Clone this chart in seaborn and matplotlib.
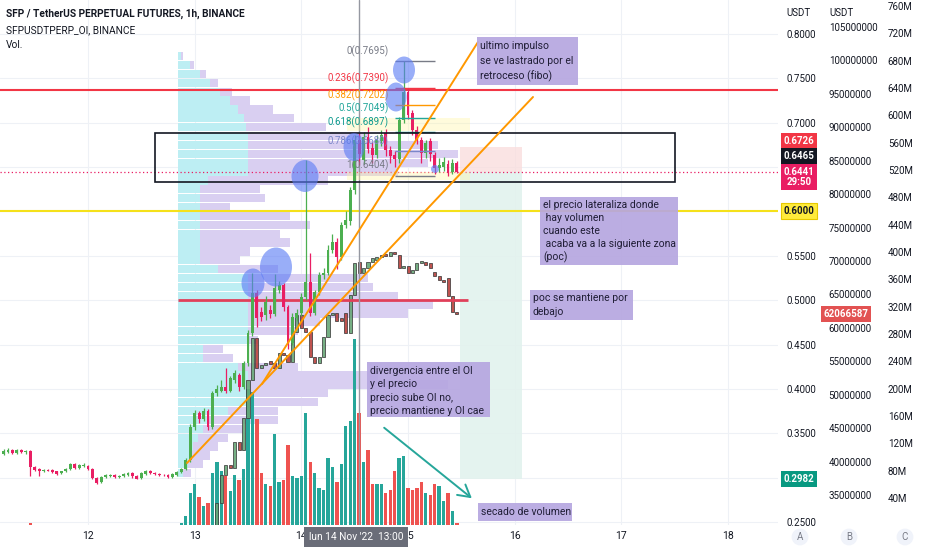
import numpy as np
import pandas as pd
import matplotlib
matplotlib.use("Agg")
import matplotlib.pyplot as plt
from matplotlib.patches import Rectangle, Ellipse
import seaborn as sns

sns.set_theme(style="white")
plt.rcParams["font.family"] = ["Roboto", "DejaVu Sans"]

# ---------------- data ----------------
# hourly candles, hours counted from 11 Nov 2022 00:00
hours = list(range(5, 108))
price_open = [
    0.327, 0.329, 0.331, 0.328, 0.331, 0.329, 0.330, 0.312, 0.310, 0.307,
    0.309, 0.309, 0.307, 0.305, 0.307, 0.310, 0.315, 0.311, 0.313, 0.313,
    0.310, 0.300, 0.295, 0.301, 0.302, 0.303, 0.301, 0.302, 0.303, 0.305,
    0.302, 0.300, 0.304, 0.308, 0.305, 0.304, 0.303, 0.303, 0.301, 0.303,
    0.306, 0.310, 0.320, 0.357, 0.373, 0.366, 0.375, 0.357, 0.395, 0.398,
    0.402, 0.398, 0.410, 0.416, 0.402, 0.429, 0.463, 0.508, 0.487, 0.483,
    0.489, 0.484, 0.512, 0.517, 0.492, 0.452, 0.480, 0.485, 0.504, 0.520,
    0.486, 0.509, 0.528, 0.531, 0.557, 0.566, 0.549, 0.585, 0.589, 0.624,
    0.680, 0.658, 0.684, 0.671, 0.664, 0.679, 0.688, 0.669, 0.664, 0.659,
    0.703, 0.735, 0.711, 0.692, 0.681, 0.666, 0.679, 0.664, 0.649, 0.650,
    0.654, 0.644, 0.655]
price_close = [
    0.330, 0.331, 0.328, 0.331, 0.329, 0.330, 0.312, 0.309, 0.307, 0.309,
    0.308, 0.306, 0.304, 0.307, 0.310, 0.315, 0.311, 0.314, 0.314, 0.310,
    0.300, 0.294, 0.301, 0.303, 0.303, 0.301, 0.302, 0.304, 0.305, 0.302,
    0.299, 0.305, 0.308, 0.305, 0.304, 0.303, 0.3025, 0.301, 0.304, 0.306,
    0.310, 0.320, 0.357, 0.373, 0.366, 0.375, 0.357, 0.395, 0.400, 0.402,
    0.398, 0.412, 0.418, 0.402, 0.429, 0.463, 0.508, 0.480, 0.481, 0.498,
    0.484, 0.514, 0.517, 0.492, 0.452, 0.481, 0.485, 0.504, 0.520, 0.486,
    0.509, 0.528, 0.531, 0.557, 0.566, 0.549, 0.585, 0.590, 0.624, 0.680,
    0.665, 0.684, 0.670, 0.664, 0.680, 0.686, 0.669, 0.662, 0.659, 0.703,
    0.735, 0.709, 0.692, 0.681, 0.666, 0.677, 0.665, 0.649, 0.652, 0.656,
    0.643, 0.655, 0.6441]
price_high = [
    0.332, 0.333, 0.332, 0.332, 0.332, 0.331, 0.331, 0.313, 0.311, 0.310,
    0.310, 0.310, 0.308, 0.308, 0.311, 0.316, 0.316, 0.315, 0.317, 0.314,
    0.311, 0.301, 0.302, 0.304, 0.304, 0.304, 0.303, 0.305, 0.306, 0.306,
    0.303, 0.306, 0.309, 0.309, 0.306, 0.305, 0.304, 0.304, 0.305, 0.307,
    0.311, 0.322, 0.360, 0.376, 0.375, 0.378, 0.377, 0.398, 0.404, 0.410,
    0.424, 0.415, 0.421, 0.418, 0.432, 0.466, 0.531, 0.512, 0.492, 0.505,
    0.495, 0.530, 0.522, 0.519, 0.495, 0.485, 0.490, 0.508, 0.658, 0.553,
    0.512, 0.532, 0.536, 0.562, 0.575, 0.570, 0.588, 0.600, 0.628, 0.686,
    0.688, 0.690, 0.695, 0.678, 0.686, 0.692, 0.693, 0.674, 0.668, 0.707,
    0.7695, 0.739, 0.714, 0.696, 0.684, 0.680, 0.683, 0.667, 0.660, 0.661,
    0.658, 0.659, 0.657]
price_low = [
    0.326, 0.328, 0.327, 0.327, 0.328, 0.327, 0.302, 0.307, 0.302, 0.306,
    0.307, 0.305, 0.303, 0.304, 0.306, 0.309, 0.310, 0.310, 0.312, 0.309,
    0.299, 0.293, 0.294, 0.300, 0.301, 0.300, 0.300, 0.301, 0.302, 0.300,
    0.298, 0.299, 0.303, 0.304, 0.303, 0.302, 0.302, 0.300, 0.300, 0.302,
    0.305, 0.309, 0.318, 0.354, 0.362, 0.364, 0.354, 0.355, 0.392, 0.396,
    0.395, 0.396, 0.407, 0.398, 0.400, 0.426, 0.460, 0.470, 0.476, 0.478,
    0.480, 0.482, 0.508, 0.488, 0.445, 0.449, 0.476, 0.482, 0.500, 0.482,
    0.483, 0.506, 0.524, 0.528, 0.553, 0.535, 0.545, 0.581, 0.585, 0.620,
    0.652, 0.654, 0.666, 0.655, 0.660, 0.674, 0.663, 0.655, 0.650, 0.655,
    0.700, 0.704, 0.686, 0.676, 0.655, 0.660, 0.657, 0.642, 0.645, 0.646,
    0.6404, 0.642, 0.643]
# volume in millions
volume_m = [
    0.4, 0.3, 0.3, 0.4, 0.3, 0.3, 3.0, 0.8, 0.6, 0.4,
    0.3, 0.4, 0.5, 0.3, 0.4, 0.6, 0.5, 0.4, 0.3, 0.4,
    0.9, 0.8, 0.6, 0.4, 0.3, 0.3, 0.3, 0.4, 0.4, 0.3,
    0.5, 0.5, 0.6, 0.4, 0.3, 0.3, 0.3, 0.4, 0.6, 1.0,
    3, 13, 47, 61, 41, 28, 32, 76, 92, 79,
    72, 50, 74, 66, 83, 200, 195, 156, 76, 60,
    58, 133, 64, 67, 118, 72, 69, 72, 164, 92,
    76, 55, 51, 99, 85, 63, 90, 146, 153, 273,
    164, 92, 110, 61, 61, 60, 48, 52, 80, 99,
    102, 55, 52, 54, 63, 47, 45, 60, 57, 36,
    48, 21, 3]
# open interest (millions of SFP), hours 53..107
oi_hours = list(range(53, 108))
oi_open = [
    30.0, 33.8, 38.0, 39.5, 39.0, 42.9, 41.7, 46.5, 52.2, 58.5,
    54.0, 54.4, 55.0, 54.8, 54.0, 56.2, 56.0, 54.9, 59.4, 61.9,
    60.0, 59.4, 55.6, 54.7, 55.6, 58.6, 61.9, 62.2, 61.5, 62.2,
    59.2, 64.9, 69.9, 68.2, 69.0, 69.9, 70.2, 70.6, 70.9, 70.8,
    71.3, 70.9, 69.0, 69.3, 68.2, 68.6, 69.7, 69.9, 69.7, 68.4,
    67.8, 67.2, 67.5, 64.8, 62.4]
oi_close = [
    33.8, 38.0, 39.5, 39.0, 42.9, 41.7, 46.5, 52.2, 58.5, 54.0,
    54.4, 54.8, 54.6, 54.0, 56.2, 56.0, 54.9, 59.4, 61.9, 60.0,
    59.4, 55.6, 54.7, 55.6, 58.6, 61.9, 62.2, 61.0, 61.0, 59.2,
    64.9, 69.7, 68.2, 69.0, 69.9, 70.4, 70.6, 70.9, 70.8, 71.3,
    71.0, 69.0, 69.3, 68.2, 68.6, 69.7, 69.9, 69.4, 69.0, 67.8,
    67.2, 66.9, 64.8, 62.4, 62.066587]
# visible-range volume profile rows
profile_price = [0.305, 0.315, 0.325, 0.335, 0.345, 0.355, 0.365, 0.375, 0.385, 0.395,
                 0.405, 0.415, 0.425, 0.435, 0.445, 0.455, 0.465, 0.475, 0.485, 0.495,
                 0.505, 0.515, 0.525, 0.535, 0.545, 0.555, 0.565, 0.575, 0.585, 0.595,
                 0.605, 0.615, 0.625, 0.635, 0.645, 0.655, 0.665, 0.675, 0.685, 0.695,
                 0.705, 0.715, 0.725, 0.735, 0.745, 0.755, 0.765, 0.775]
profile_up = [5, 10, 12, 15, 20, 25, 30, 50, 70, 70,
              70, 70, 60, 25, 25, 70, 70, 70, 70, 70,
              70, 70, 70, 40, 22, 22, 22, 22, 22, 22,
              22, 22, 22, 30, 70, 70, 70, 70, 70, 68,
              66, 60, 52, 42, 32, 22, 12, 3]
profile_down = [8, 15, 20, 25, 30, 40, 70, 50, 70, 80,
                200, 130, 60, 30, 20, 10, 50, 72, 160, 185,
                150, 125, 120, 60, 40, 50, 90, 80, 110, 90,
                30, 65, 60, 120, 150, 180, 210, 190, 120, 80,
                50, 35, 20, 12, 8, 6, 4, 2]

day_ticks = [24, 48, 72, 96, 120, 144, 168]
day_labels = ["12", "13", "14", "15", "16", "17", "18"]
price_ticks = [0.25, 0.30, 0.35, 0.40, 0.45, 0.50, 0.55, 0.60, 0.65, 0.70, 0.75, 0.80]
hidden_price_ticks = [0.30, 0.60, 0.65]   # covered by the scale labels
oi_ticks_m = [35, 40, 45, 50, 55, 60, 65, 70, 75, 80, 85, 90, 95, 100, 105]
vol_ticks_m = list(range(40, 761, 40))

fib_names = ["0", "0.236", "0.382", "0.5", "0.618", "0.786", "1"]
fib_prices = [0.7695, 0.7390, 0.7202, 0.7049, 0.6897, 0.6680, 0.6404]
fib_colors = ["#787b86", "#f23645", "#ff9800", "#22a69a", "#0e9a8e", "#7b86c9", "#787b86"]

poc_price = 0.500
red_level = 0.737
yellow_level = 0.600
last_price = 0.6441
stop_price = 0.6726
target_price = 0.2982
crosshair_hour = 85

# ---------------- geometry helpers (pixel -> data) ----------------
W, H = 932, 550
def X(px):
    return 24 + (px - 88) / 4.4446
def P(py):
    return 0.8 - (py - 34) / 887.27
def FX(px):
    return px / W
def FY(py):
    return 1 - py / H

XL = (X(0), X(778))
YL = (P(525), P(0))
rect = [0, 25 / H, 778 / W, 525 / H]

UP, DOWN = "#4caf50", "#e91e63"
TXT = "#131722"
FS = 7

fig = plt.figure(figsize=(9.32, 5.5), dpi=100)
fig.patch.set_facecolor("white")

# background grid
ax_bg = fig.add_axes(rect)
ax_bg.set_xlim(XL); ax_bg.set_ylim(YL)
ax_bg.set_xticks(day_ticks); ax_bg.set_yticks(price_ticks)
ax_bg.grid(True, color="#eef1f6", lw=0.8)
ax_bg.tick_params(left=False, bottom=False, labelleft=False, labelbottom=False)
for s in ax_bg.spines.values():
    s.set_visible(False)
ax_bg.set_facecolor("white")
ax_bg.set_zorder(0)

# volume profile
ax_vp = fig.add_axes([178 / W, 25 / H, 600 / W, 525 / H])
ax_vp.set_xlim(0, 600); ax_vp.set_ylim(YL)
ax_vp.barh(profile_price, profile_up, height=0.0093, color="#bdeef3", lw=0)
ax_vp.barh(profile_price, profile_down, left=profile_up, height=0.0093, color="#d9cff1", lw=0)
ax_vp.axis("off")
ax_vp.set_zorder(1)

ax = fig.add_axes(rect)
ax.patch.set_visible(False)
ax_vol = ax.twinx()
ax_oi = ax.twinx()
ax_vol.set_zorder(2); ax_oi.set_zorder(3); ax.set_zorder(4)

# volume bars (seaborn)
po = np.array(price_open); pc = np.array(price_close)
vol_df = pd.DataFrame({"hour": hours, "volume": volume_m,
                       "dir": np.where(pc >= po, "up", "down")})
sns.barplot(data=vol_df, x="hour", y="volume", hue="dir",
            palette={"up": "#26a69a", "down": "#ef5350"}, native_scale=True,
            width=0.75, dodge=False, legend=False, saturation=1, errorbar=None,
            linewidth=0, ax=ax_vol)
ax_vol.set_ylim(0.44, 768.9)

# OI candles
oo = np.array(oi_open); oc = np.array(oi_close)
oi_cols = np.where(oc >= oo, "#67a677", "#b8403c")
ax_oi.bar(oi_hours, np.maximum(np.abs(oc - oo), 0.25), 0.68, bottom=np.minimum(oo, oc),
          color=oi_cols, edgecolor="#3b3b3b", linewidth=0.6, alpha=0.9, zorder=3)
ax_oi.set_ylim(30.51, 109.04)

# position tool, levels
ax.add_patch(Rectangle((X(460), last_price), X(522) - X(460), stop_price - last_price,
                       fc="#f9dede", ec="none", alpha=0.8, zorder=1))
ax.add_patch(Rectangle((X(460), target_price), X(522) - X(460), last_price - target_price,
                       fc="#e2f2ee", ec="none", alpha=0.9, zorder=1))
ax.axhline(red_level, color="#f23645", lw=1.5, zorder=2)
ax.axhline(yellow_level, color="#f5e11a", lw=1.5, zorder=2)
ax.hlines(poc_price, X(178), X(468), color="#e0405a", lw=2, zorder=2)
ax.axhline(last_price, color="#e91e63", lw=0.9, ls=(0, (1, 2)), zorder=2)
ax.axvline(crosshair_hour, color="#9598a1", lw=1, zorder=2)

# price candles
ph = np.array(price_high); pl = np.array(price_low)
cols = np.where(pc >= po, UP, DOWN)
ax.vlines(hours, pl, ph, colors=cols, lw=0.9, zorder=3)
ax.bar(hours, np.maximum(np.abs(pc - po), 0.0009), 0.66, bottom=np.minimum(po, pc),
       color=cols, linewidth=0, zorder=3.5)

# fib retracement
for yb0, yb1 in [(118, 131), (172, 180)]:
    ax.add_patch(Rectangle((X(347), P(yb1)), X(470) - X(347), P(yb0) - P(yb1),
                           fc="#fff59d", ec="none", alpha=0.35, zorder=2.5))
ax.hlines(fib_prices, X(395), X(435), colors=fib_colors, lw=1, zorder=4)
for name, pr, col in zip(fib_names, fib_prices, fib_colors):
    ax.text(X(389), pr + 10 / 887.27, f"{name}({pr:.4f})", ha="right", va="center",
            color=col, fontsize=FS, zorder=6)

# box (consolidation zone)
ax.add_patch(Rectangle((X(155), P(182)), X(675) - X(155), P(133) - P(182),
                       fill=False, ec="#131722", lw=1.2, zorder=6))

# trend lines
ax.plot([X(187), X(533)], [P(463), P(97)], color="#ff9800", lw=1.4, zorder=6)
ax.plot([X(262), X(478)], [P(384), P(42)], color="#ff9800", lw=1.4, zorder=6)

# arrow
ax.annotate("", xy=(X(474), P(500)), xytext=(X(382), P(426)),
            arrowprops=dict(arrowstyle="->,head_length=0.7,head_width=0.4",
                            color="#26a69a", lw=1.4), zorder=7)

# highlight circles (cx, cy, w, h in px)
circles = [(404, 70, 22, 27), (396, 97, 21, 29), (354, 147, 21, 28),
           (305, 176, 27, 32), (253, 283, 23, 29), (276, 267, 32, 39), (435, 169, 8, 8)]
for cx, cy, w, h in circles:
    ax.add_patch(Ellipse((X(cx), P(cy)), w / 4.4446, h / 887.27,
                         fc="#5b7cf5", ec="none", alpha=0.62, zorder=7))

# note boxes: x0, y0, x1, y1, first line offset, spacing, lines
notes = [
    (477, 37, 578, 85, 9, 15, ["ultimo impulso", "se ve lastrado por el", "retroceso (fibo)"]),
    (540, 197, 678, 265, 8, 13, ["el precio lateraliza donde", " hay volumen", "cuando este",
                                 " acaba va a la siguiente zona", "(poc)"]),
    (530, 290, 633, 320, 8, 14, ["poc se mantiene por", "debajo"]),
    (367, 362, 490, 417, 9, 13.4, ["divergencia entre el OI", "y el precio",
                                   "precio sube OI no,", "precio mantiene y OI cae"]),
    (478, 503, 572, 521, 9, 13, ["secado de volumen"]),
]
for x0, y0, x1, y1, off, sp, lines in notes:
    ax.add_patch(Rectangle((X(x0), P(y1)), X(x1) - X(x0), P(y0) - P(y1),
                           fc="#b6a6e0", ec="none", alpha=0.92, zorder=8))
    for i, line in enumerate(lines):
        ax.text(X(x0 + 3), P(y0 + off + i * sp), line, ha="left", va="center",
                color="#1f1d35", fontsize=FS + 0.5, zorder=9)

# axes limits & ticks
ax.set_xlim(XL); ax.set_ylim(YL)
ax.set_xticks(day_ticks); ax.set_xticklabels(day_labels)
ax.yaxis.tick_right()
ax.set_yticks(price_ticks)
ax.set_yticklabels(["" if p in hidden_price_ticks else f"{p:.4f}" for p in price_ticks])
ax.tick_params(axis="y", length=0, pad=5.8, labelsize=FS, labelcolor=TXT)
ax.tick_params(axis="x", length=0, pad=4, labelsize=FS + 0.5, labelcolor=TXT)
ax_oi.set_yticks(oi_ticks_m)
ax_oi.set_yticklabels([f"{int(v * 1000000)}" for v in oi_ticks_m])
ax_oi.tick_params(axis="y", length=0, pad=36.5, labelsize=FS, labelcolor=TXT)
ax_vol.set_yticks(vol_ticks_m)
ax_vol.set_yticklabels([f"{v}M" for v in vol_ticks_m])
ax_vol.tick_params(axis="y", length=0, pad=79, labelsize=FS, labelcolor=TXT)
for a in (ax, ax_vol, ax_oi):
    a.set_xlabel(""); a.set_ylabel("")
    for s in a.spines.values():
        s.set_visible(False)
    a.grid(False)
ax.set_xlim(XL)

# header
fig.text(FX(6), FY(14), "SFP / TetherUS PERPETUAL FUTURES, 1h, BINANCE", fontsize=FS + 0.3,
         fontweight="bold", color=TXT, va="center", ha="left", zorder=10)
fig.text(FX(6), FY(30), "SFPUSDTPERP_OI, BINANCE", fontsize=FS + 0.3, color=TXT,
         va="center", ha="left", zorder=10)
fig.text(FX(6), FY(45), "Vol.", fontsize=FS + 0.3, color=TXT, va="center", ha="left", zorder=10)
fig.text(FX(786), FY(13), "USDT", fontsize=FS, color=TXT, va="center", ha="left", zorder=10)
fig.text(FX(829), FY(13), "USDT", fontsize=FS, color=TXT, va="center", ha="left", zorder=10)

# price-scale labels
def scale_label(px, py, txt, fc, tc="white", ec="none"):
    fig.text(FX(px), FY(py), txt, fontsize=FS, fontweight="bold", color=tc, ha="center",
             va="center", zorder=11, linespacing=1.1,
             bbox=dict(boxstyle="square,pad=0.3", fc=fc, ec=ec, lw=0.8))

scale_label(799, 141, f"{stop_price:.4f}", "#f23645")
scale_label(799, 156, "0.6465", "#131722")
scale_label(799, 177, f"{last_price:.4f}\n29:50", "#e91e63")
scale_label(799, 211, f"{yellow_level:.4f}", "#ffeb3b", tc=TXT, ec="#e6c800")
scale_label(799, 479, f"{target_price:.4f}", "#089981")
scale_label(846, 314, f"{int(round(oi_close[-1] * 1000000))}", "#e25252")

# bottom bar
fig.text(FX(356), FY(537), "lun 14 Nov '22  13:00", fontsize=FS + 0.3, color="white",
         ha="center", va="center", zorder=11,
         bbox=dict(boxstyle="square,pad=0.5", fc="#6a6d78", ec="none"))
for px, lab in [(800, "A"), (849, "B"), (905, "C")]:
    fig.text(FX(px), FY(537), lab, fontsize=FS, color="#787b86", ha="center", va="center",
             zorder=11, bbox=dict(boxstyle="circle,pad=0.35", fc="#f0f3fa", ec="none"))

fig.savefig("out.png", dpi=100)
